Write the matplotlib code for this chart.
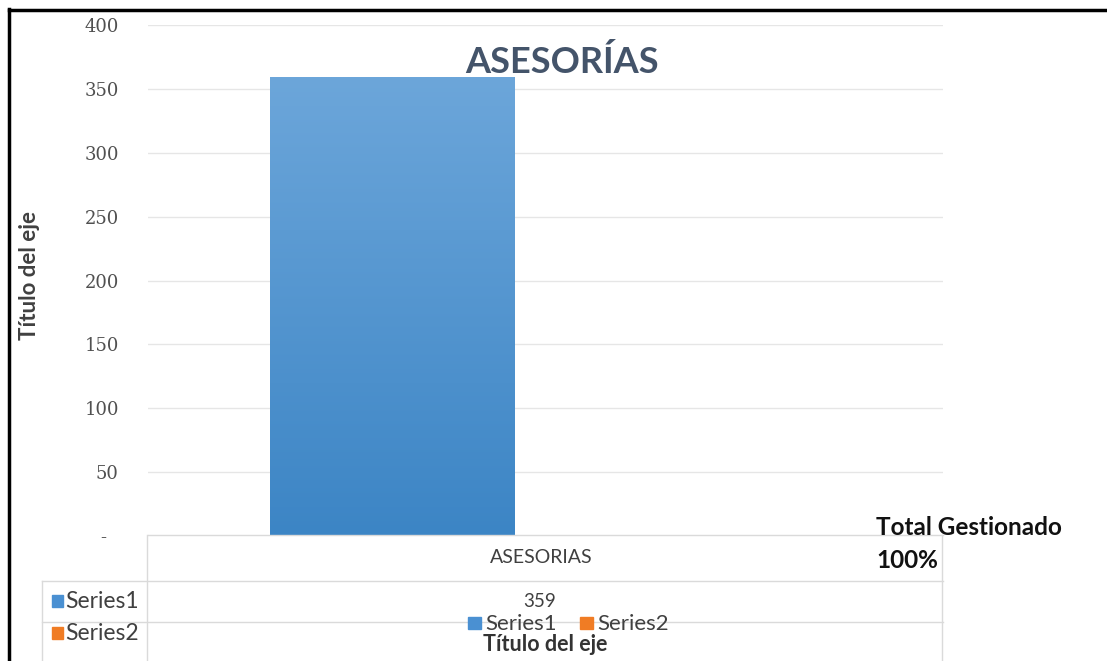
import numpy as np
import matplotlib
matplotlib.use("Agg")
import matplotlib.pyplot as plt
from matplotlib.lines import Line2D
from matplotlib.patches import Rectangle

# Datos del gráfico
categorias = ["ASESORIAS"]
series_nombres = ["Series1", "Series2"]
series1 = [359]
series2 = [np.nan]
series_colores = ["#4a90d2", "#f07c24"]
yticks = [0, 50, 100, 150, 200, 250, 300, 350, 400]
ytick_labels = ["-  ", "50", "100", "150", "200", "250", "300", "350", "400"]
titulo = "ASESORÍAS"
titulo_eje = "Título del eje"
nota = ["Total Gestionado", "100%"]

plt.rcParams['font.family'] = ['Lato', 'DejaVu Sans']

fig = plt.figure(figsize=(11.07, 6.61), dpi=100)
W, H = 1107, 661
ax = fig.add_axes([148 / W, 1 - 536 / H, 795 / W, 511 / H])

x = np.arange(len(categorias))
ancho = 0.308
barras = ax.bar(x - 0.192, series1, ancho, color=series_colores[0], zorder=2)
ax.bar(x + 0.192, np.nan_to_num(series2), ancho, color=series_colores[1], zorder=2)

# degradado en la barra
grad = np.linspace(0, 1, 256).reshape(-1, 1)
cmap = matplotlib.colors.LinearSegmentedColormap.from_list("g", ["#3c85c5", "#6ca6da"])
for b in barras:
    im = ax.imshow(grad, cmap=cmap, aspect="auto", origin="lower",
                   extent=[b.get_x(), b.get_x() + b.get_width(), 0, b.get_height()], zorder=3)
    im.set_clip_path(b)

ax.set_xlim(-0.5, 0.5)
ax.set_ylim(0, 400)
ax.set_yticks(yticks)
ax.set_yticklabels(ytick_labels, fontsize=13, color="#505050", family=['DejaVu Serif'])
ax.tick_params(axis="y", length=0, pad=21)
ax.set_xticks([])
ax.grid(axis="y", color="#e6e6e6", linewidth=1, zorder=0)
for s in ax.spines.values():
    s.set_visible(False)

def px(xp, yp):
    return xp / W, 1 - yp / H

fig.text(*px(562, 73), titulo, ha="center", va="baseline",
         fontsize=26, fontweight="bold", color="#44546a")
fig.text(*px(30, 275), titulo_eje, rotation=90, ha="center", va="center",
         fontsize=16, fontweight="bold", color="#404040")
fig.text(*px(876, 535), nota[0], ha="left", va="baseline", fontsize=17.5,
         fontweight="bold", color="#111111")
fig.text(*px(876, 568), nota[1], ha="left", va="baseline", fontsize=17.5,
         fontweight="bold", color="#111111")

# tabla de datos
gris = "#dadada"
def linea(xs, ys):
    fig.add_artist(Line2D([v / W for v in xs], [1 - v / H for v in ys], color=gris, lw=1))

linea([148, 943], [535, 535])
linea([42, 943], [581, 581])
linea([42, 943], [622, 622])
linea([147, 147], [535, 661])
linea([942, 942], [535, 661])
linea([42, 42], [581, 661])

for i, c in enumerate(categorias):
    fig.text(*px(541, 563), c, ha="center", va="baseline", fontsize=14, color="#404040")
    fig.text(*px(540, 607), str(series1[i]), ha="center", va="baseline",
             fontsize=13.5, color="#404040")

for j, (nombre, col) in enumerate(zip(series_nombres, series_colores)):
    yb = 608 + j * 32
    fig.add_artist(Rectangle(px(52, yb - 1), 11 / W, 12 / H, color=col))
    fig.text(*px(65, yb), nombre, ha="left", va="baseline", fontsize=16.5, color="#404040")

# leyenda inferior
xl = 468
for nombre, col in zip(series_nombres, series_colores):
    fig.add_artist(Rectangle(px(xl, 629), 13 / W, 12 / H, color=col, zorder=5))
    fig.text(*px(xl + 17, 630), nombre, ha="left", va="baseline", fontsize=16, color="#404040")
    xl += 112
fig.text(*px(545, 651), titulo_eje, ha="center", va="baseline", fontsize=15.5,
         fontweight="bold", color="#333333")

# borde negro
fig.add_artist(Line2D([9 / W, 9 / W], [0, 1 - 9 / H], color="black", lw=2.5))
fig.add_artist(Line2D([9 / W, 1], [1 - 10 / H, 1 - 10 / H], color="black", lw=2.5))

fig.savefig("out.png", dpi=100)
